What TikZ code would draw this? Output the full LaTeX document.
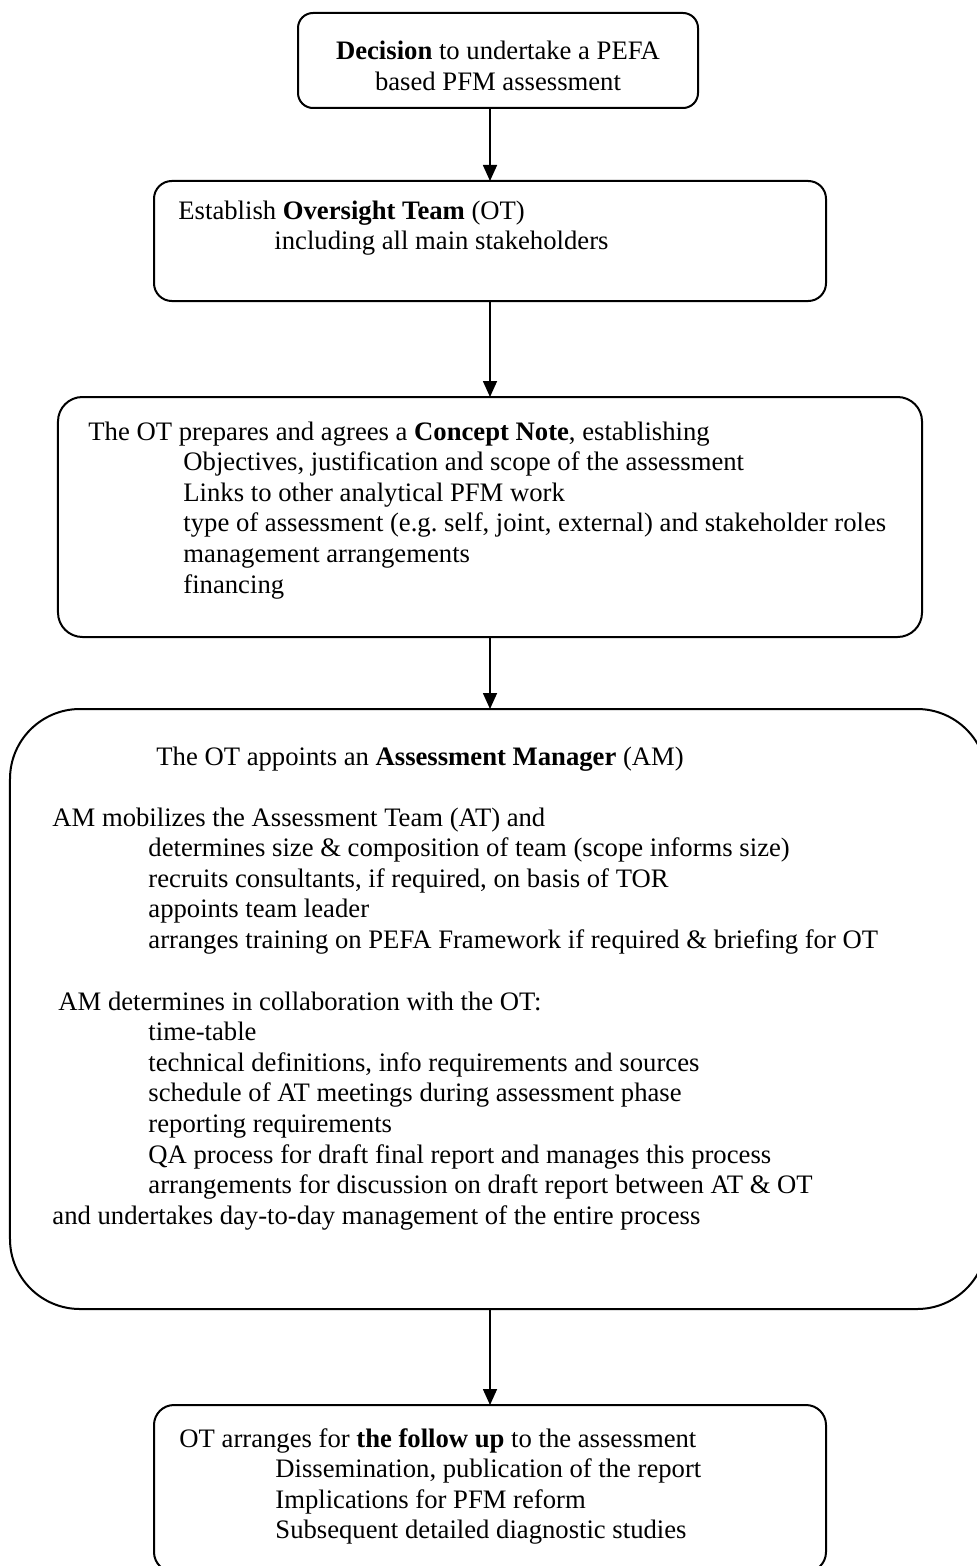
\documentclass[tikz,border=0pt]{standalone}
\usepackage{fontspec}
\setmainfont{Liberation Serif}
\usetikzlibrary{positioning,arrows.meta}

\begin{document}
\begin{tikzpicture}[x=0.45pt, y=-0.45pt, font=\fontsize{12}{13.8}\selectfont]
	\tikzstyle{block} = [rectangle, draw, fill=white, line width=0.9pt, inner sep=0pt, outer sep=0pt]
	\tikzstyle{txt} = [anchor=base west, inner sep=0pt]
	\tikzstyle{line} = [draw, -{Triangle[length=7.2pt, width=6.3pt]}, line width=0.75pt]

	\useasboundingbox (0,0) rectangle (977,1566);

	    % Place boxes
	    \node [block, rounded corners=6.75pt, minimum width=180pt, minimum height=42.75pt] (decision) at (498,60.5) {};
	    \node [block, rounded corners=8pt, minimum width=302.4pt, minimum height=54pt] (oversight) at (490,241) {};
	    \node [block, rounded corners=11pt, minimum width=388.8pt, minimum height=108pt] (concept) at (490,517) {};
	    \node [block, rounded corners=31.5pt, minimum width=439.65pt, minimum height=270pt] (manager) at (498.5,1009) {};
	    \node [block, rounded corners=9pt, minimum width=302.4pt, minimum height=75.15pt] (followup) at (490,1488.5) {};

	    % Place texts
	    \node [txt, anchor=base] (decisiontxt) at (498,60) {\begin{tabular}[t]{@{}c@{}}\textbf{Decision} to undertake a PEFA\\ based PFM assessment\end{tabular}};

	    \node [txt] (oversighthead) at (178,220) {Establish \textbf{Oversight Team} (OT)};
	    \node [txt] (oversightitem) at (274,250) {including all main stakeholders};

	    \node [txt] (concepthead) at (88,440) {The OT prepares and agrees a \textbf{Concept Note}, establishing};
	    \node [txt] (conceptitems) at (183,470.6) {\begin{tabular}[t]{@{}l@{}}
	        Objectives, justification and scope of the assessment\\
	        Links to other analytical PFM work\\
	        type of assessment (e.g.\ self, joint, external) and stakeholder roles\\
	        management arrangements\\
	        financing\end{tabular}};

	    \node [txt] (managerhead) at (156,765) {The OT appoints an \textbf{Assessment Manager} (AM)};
	    \node [txt] (mobilizes) at (52,826) {AM mobilizes the Assessment Team (AT) and};
	    \node [txt] (mobilizeitems) at (148,856.6) {\begin{tabular}[t]{@{}l@{}}
	        determines size \& composition of team (scope informs size)\\
	        recruits consultants, if required, on basis of TOR\\
	        appoints team leader\\
	        arranges training on PEFA Framework if required \& briefing for OT\end{tabular}};
	    \node [txt] (determines) at (58,1010) {AM determines in collaboration with the OT:};
	    \node [txt] (determineitems) at (148,1040.6) {\begin{tabular}[t]{@{}l@{}}
	        time-table\\
	        technical definitions, info requirements and sources\\
	        schedule of AT meetings during assessment phase\\
	        reporting requirements\\
	        QA process for draft final report and manages this process\\
	        arrangements for discussion on draft report between AT \& OT\end{tabular}};
	    \node [txt] (undertakes) at (52,1224) {and undertakes day-to-day management of the entire process};

	    \node [txt] (followuphead) at (179,1447) {OT arranges for \textbf{the follow up} to the assessment};
	    \node [txt] (followupitems) at (275,1477.6) {\begin{tabular}[t]{@{}l@{}}
	        Dissemination, publication of the report\\
	        Implications for PFM reform\\
	        Subsequent detailed diagnostic studies\end{tabular}};

	    % Draw edges
	    \path [line] (decision.south -| oversight.north) -- (oversight.north);
	    \path [line] (oversight) -- (concept);
	    \path [line] (concept.south) -- (concept.south |- manager.north);
	    \path [line] (manager.south -| followup.north) -- (followup.north);

\end{tikzpicture}
\end{document}
